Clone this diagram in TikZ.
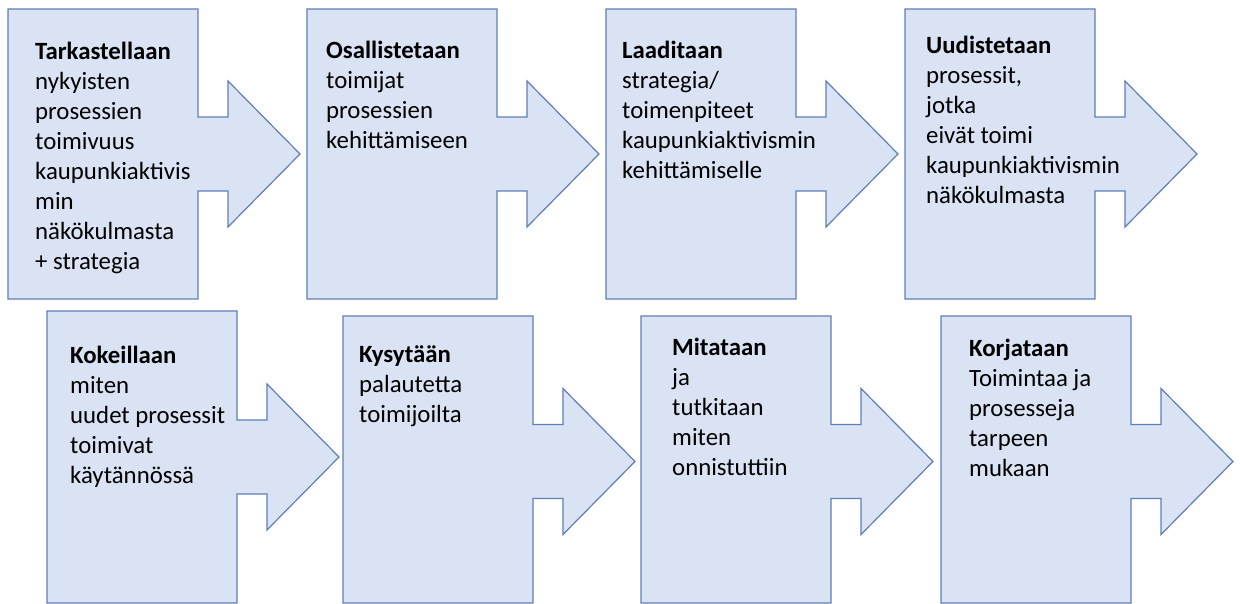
\documentclass[tikz,border=0pt]{standalone}
\usepackage{fontspec}
\setmainfont{Carlito}
\definecolor{vaihefill}{RGB}{218,227,243}
\definecolor{vaihereuna}{RGB}{96,126,182}
% step shape: left x, top y, bottom y, middle y of the arrow
\newcommand{\vaihe}[4]{%
    \draw [vaihe]
        (#1, #2) -- ({#1+190}, #2) -- ({#1+190}, {#4-37})
        -- ({#1+220}, {#4-37}) -- ({#1+220}, {#4-73})
        -- ({#1+292}, #4)
        -- ({#1+220}, {#4+73}) -- ({#1+220}, {#4+37})
        -- ({#1+190}, {#4+37}) -- ({#1+190}, #3) -- (#1, #3) -- cycle;}
\tikzset{
    vaihe/.style={fill=vaihefill, draw=vaihereuna, line width=1.2pt},
    teksti/.style={anchor=north west, inner sep=0pt, align=left,
        font=\fontsize{24.8}{30}\selectfont}
}
\begin{document}
\begin{tikzpicture}[x=1pt, y=-1pt]
    \useasboundingbox (0, 0) rectangle (1240, 604);
    % Top row
    \vaihe{8}{9}{299}{154}
    \vaihe{307}{9}{299}{154}
    \vaihe{606}{9}{299}{154}
    \vaihe{905}{9}{299}{154}
    %% Texts
    \node [teksti] (t1) at (35, 42) {\textbf{Tarkastellaan}\\nykyisten\\prosessien\\toimivuus\\kaupunkiaktivis\\min\\näkökulmasta\\+ strategia};
    \node [teksti] (t2) at (326, 41) {\textbf{Osallistetaan}\\toimijat\\prosessien\\kehittämiseen};
    \node [teksti] (t3) at (622, 41) {\textbf{Laaditaan}\\strategia/\\toimenpiteet\\kaupunkiaktivismin\\kehittämiselle};
    \node [teksti] (t4) at (926, 36) {\textbf{Uudistetaan}\\prosessit,\\jotka\\eivät toimi\\kaupunkiaktivismin\\näkökulmasta};

    % Bottom row
    \vaihe{47}{311}{603}{457}
    \vaihe{343}{316}{603}{461.5}
    \vaihe{641}{316}{603}{461.5}
    \vaihe{941}{316}{603}{461.5}
    %% Texts
    \node [teksti] (t5) at (70, 346) {\textbf{Kokeillaan}\\miten\\uudet prosessit\\toimivat\\käytännössä};
    \node [teksti] (t6) at (359, 346) {\textbf{Kysytään}\\palautetta\\toimijoilta};
    \node [teksti] (t7) at (672, 338) {\textbf{Mitataan}\\ja\\tutkitaan\\miten\\onnistuttiin};
    \node [teksti] (t8) at (969, 339) {\textbf{Korjataan}\\Toimintaa ja\\prosesseja\\tarpeen\\mukaan};
\end{tikzpicture}
\end{document}
